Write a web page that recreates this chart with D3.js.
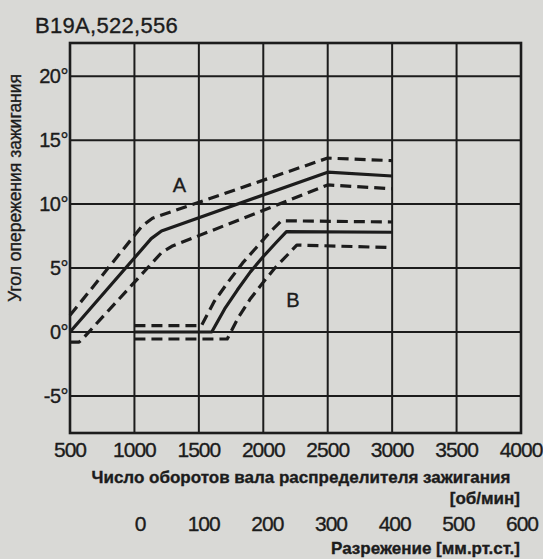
<!DOCTYPE html>
<html>
<head>
<meta charset="utf-8">
<script src="https://cdn.jsdelivr.net/npm/d3@7"></script>
<style>
  html, body { margin: 0; padding: 0; background: #d9d9d6; }
  svg { display: block; }
  text { font-family: "Liberation Sans", Arial, sans-serif; fill: #1c1c1c; stroke: #1c1c1c; stroke-width: 0.35px; }
</style>
</head>
<body>
<svg id="chart" width="543" height="559"></svg>
<script>
// Ignition advance vs. distributor shaft speed (curve A, centrifugal)
// and vs. vacuum (curve B), each with its tolerance band.
const title = "B19A,522,556";

const rpmTicks = [500, 1000, 1500, 2000, 2500, 3000, 3500, 4000];
const degTicks = [-5, 0, 5, 10, 15, 20];
const vacuumTicks = [0, 100, 200, 300, 400, 500, 600];

// [rpm, degrees]
const aMid   = [[500, 0], [1130, 7.3], [1210, 7.9], [2500, 12.5], [3000, 12.2]];
const aUpper = [[500, 1.3], [1060, 8.3], [1140, 8.9], [2500, 13.6], [3000, 13.4]];
const aLower = [[500, -0.8], [570, -0.8], [610, -0.4], [1210, 6.2], [1290, 6.7], [2500, 11.5], [3000, 11.2]];

const bMid   = [[1000, 0], [1600, 0], [1700, 1.8], [1800, 3.3], [1900, 4.7], [2000, 5.9],
                [2100, 7.0], [2180, 7.85], [3000, 7.8]];
const bUpper = [[1000, 0.5], [1520, 0.5], [1620, 2.4], [1730, 3.95], [1840, 5.4], [1950, 6.65],
                [2050, 7.8], [2140, 8.7], [3000, 8.6]];
const bLower = [[1000, -0.55], [1720, -0.55], [1810, 1.2], [1900, 2.6], [2000, 3.9], [2090, 5.0],
                [2185, 6.0], [2260, 6.8], [3000, 6.6]];

const curveLabels = [["A", 1350, 11.5], ["B", 2230, 2.5]];

const svg = d3.select("#chart");
const ink = "#1c1c1c";

const x = d3.scaleLinear().domain([500, 4000]).range([70, 521]);
const y = d3.scaleLinear().domain([-7.9, 22.6]).range([433, 43]);
const xVac = d3.scaleLinear().domain([0, 600]).range([140, 522]);

// grid
const g = svg.append("g");
g.selectAll("line.v").data(rpmTicks.slice(1, -1)).join("line")
  .attr("x1", d => x(d)).attr("x2", d => x(d))
  .attr("y1", y.range()[1]).attr("y2", y.range()[0])
  .attr("stroke", ink).attr("stroke-width", 2);
g.selectAll("line.h").data(degTicks).join("line")
  .attr("x1", x.range()[0]).attr("x2", x.range()[1])
  .attr("y1", d => y(d)).attr("y2", d => y(d))
  .attr("stroke", ink).attr("stroke-width", 2);
g.append("rect")
  .attr("x", x.range()[0]).attr("y", y.range()[1])
  .attr("width", x.range()[1] - x.range()[0])
  .attr("height", y.range()[0] - y.range()[1])
  .attr("fill", "none").attr("stroke", ink).attr("stroke-width", 2.6);

// curves
const line = d3.line().x(d => x(d[0])).y(d => y(d[1]));
const series = [
  [aMid, false], [aUpper, true], [aLower, true],
  [bMid, false], [bUpper, true], [bLower, true]
];
svg.append("g").selectAll("path").data(series).join("path")
  .attr("d", d => line(d[0]))
  .attr("fill", "none").attr("stroke", ink)
  .attr("stroke-width", 3.2)
  .attr("stroke-linejoin", "round")
  .attr("stroke-dasharray", d => d[1] ? "11,6" : null);

svg.append("g").selectAll("text").data(curveLabels).join("text")
  .attr("x", d => x(d[1])).attr("y", d => y(d[2]))
  .attr("text-anchor", "middle").attr("dominant-baseline", "central")
  .attr("font-size", 20).text(d => d[0]);

// y tick labels
svg.append("g").selectAll("text").data(degTicks).join("text")
  .attr("x", 68).attr("y", d => y(d))
  .attr("text-anchor", "end").attr("dominant-baseline", "central")
  .attr("font-size", 20).attr("letter-spacing", -0.5)
  .text(d => (d < 0 ? "-" + Math.abs(d) : d) + "°");

// rpm tick labels
svg.append("g").selectAll("text").data(rpmTicks).join("text")
  .attr("x", d => x(d)).attr("y", 449)
  .attr("text-anchor", "middle").attr("dominant-baseline", "central")
  .attr("font-size", 21).attr("letter-spacing", -1)
  .text(d => d);

// vacuum tick labels
svg.append("g").selectAll("text").data(vacuumTicks).join("text")
  .attr("x", d => xVac(d)).attr("y", 523)
  .attr("text-anchor", "middle").attr("dominant-baseline", "central")
  .attr("font-size", 21).attr("letter-spacing", -1)
  .text(d => d);

// titles
svg.append("text").attr("x", 35).attr("y", 33)
  .attr("font-size", 22).attr("letter-spacing", 0.3).text(title);

svg.append("text")
  .attr("transform", "translate(15,188) rotate(-90)")
  .attr("text-anchor", "middle").attr("dominant-baseline", "central")
  .attr("font-size", 17.5).text("Угол опережения зажигания");

svg.append("text").attr("x", 301).attr("y", 477)
  .attr("text-anchor", "middle").attr("dominant-baseline", "central")
  .attr("font-size", 17).attr("font-weight", "bold")
  .text("Число оборотов вала распределителя зажигания");
svg.append("text").attr("x", 520).attr("y", 498)
  .attr("text-anchor", "end").attr("dominant-baseline", "central")
  .attr("font-size", 17).attr("font-weight", "bold")
  .text("[об/мин]");
svg.append("text").attr("x", 520).attr("y", 548)
  .attr("text-anchor", "end").attr("dominant-baseline", "central")
  .attr("font-size", 17).attr("font-weight", "bold")
  .text("Разрежение [мм.рт.ст.]");
</script>
</body>
</html>
